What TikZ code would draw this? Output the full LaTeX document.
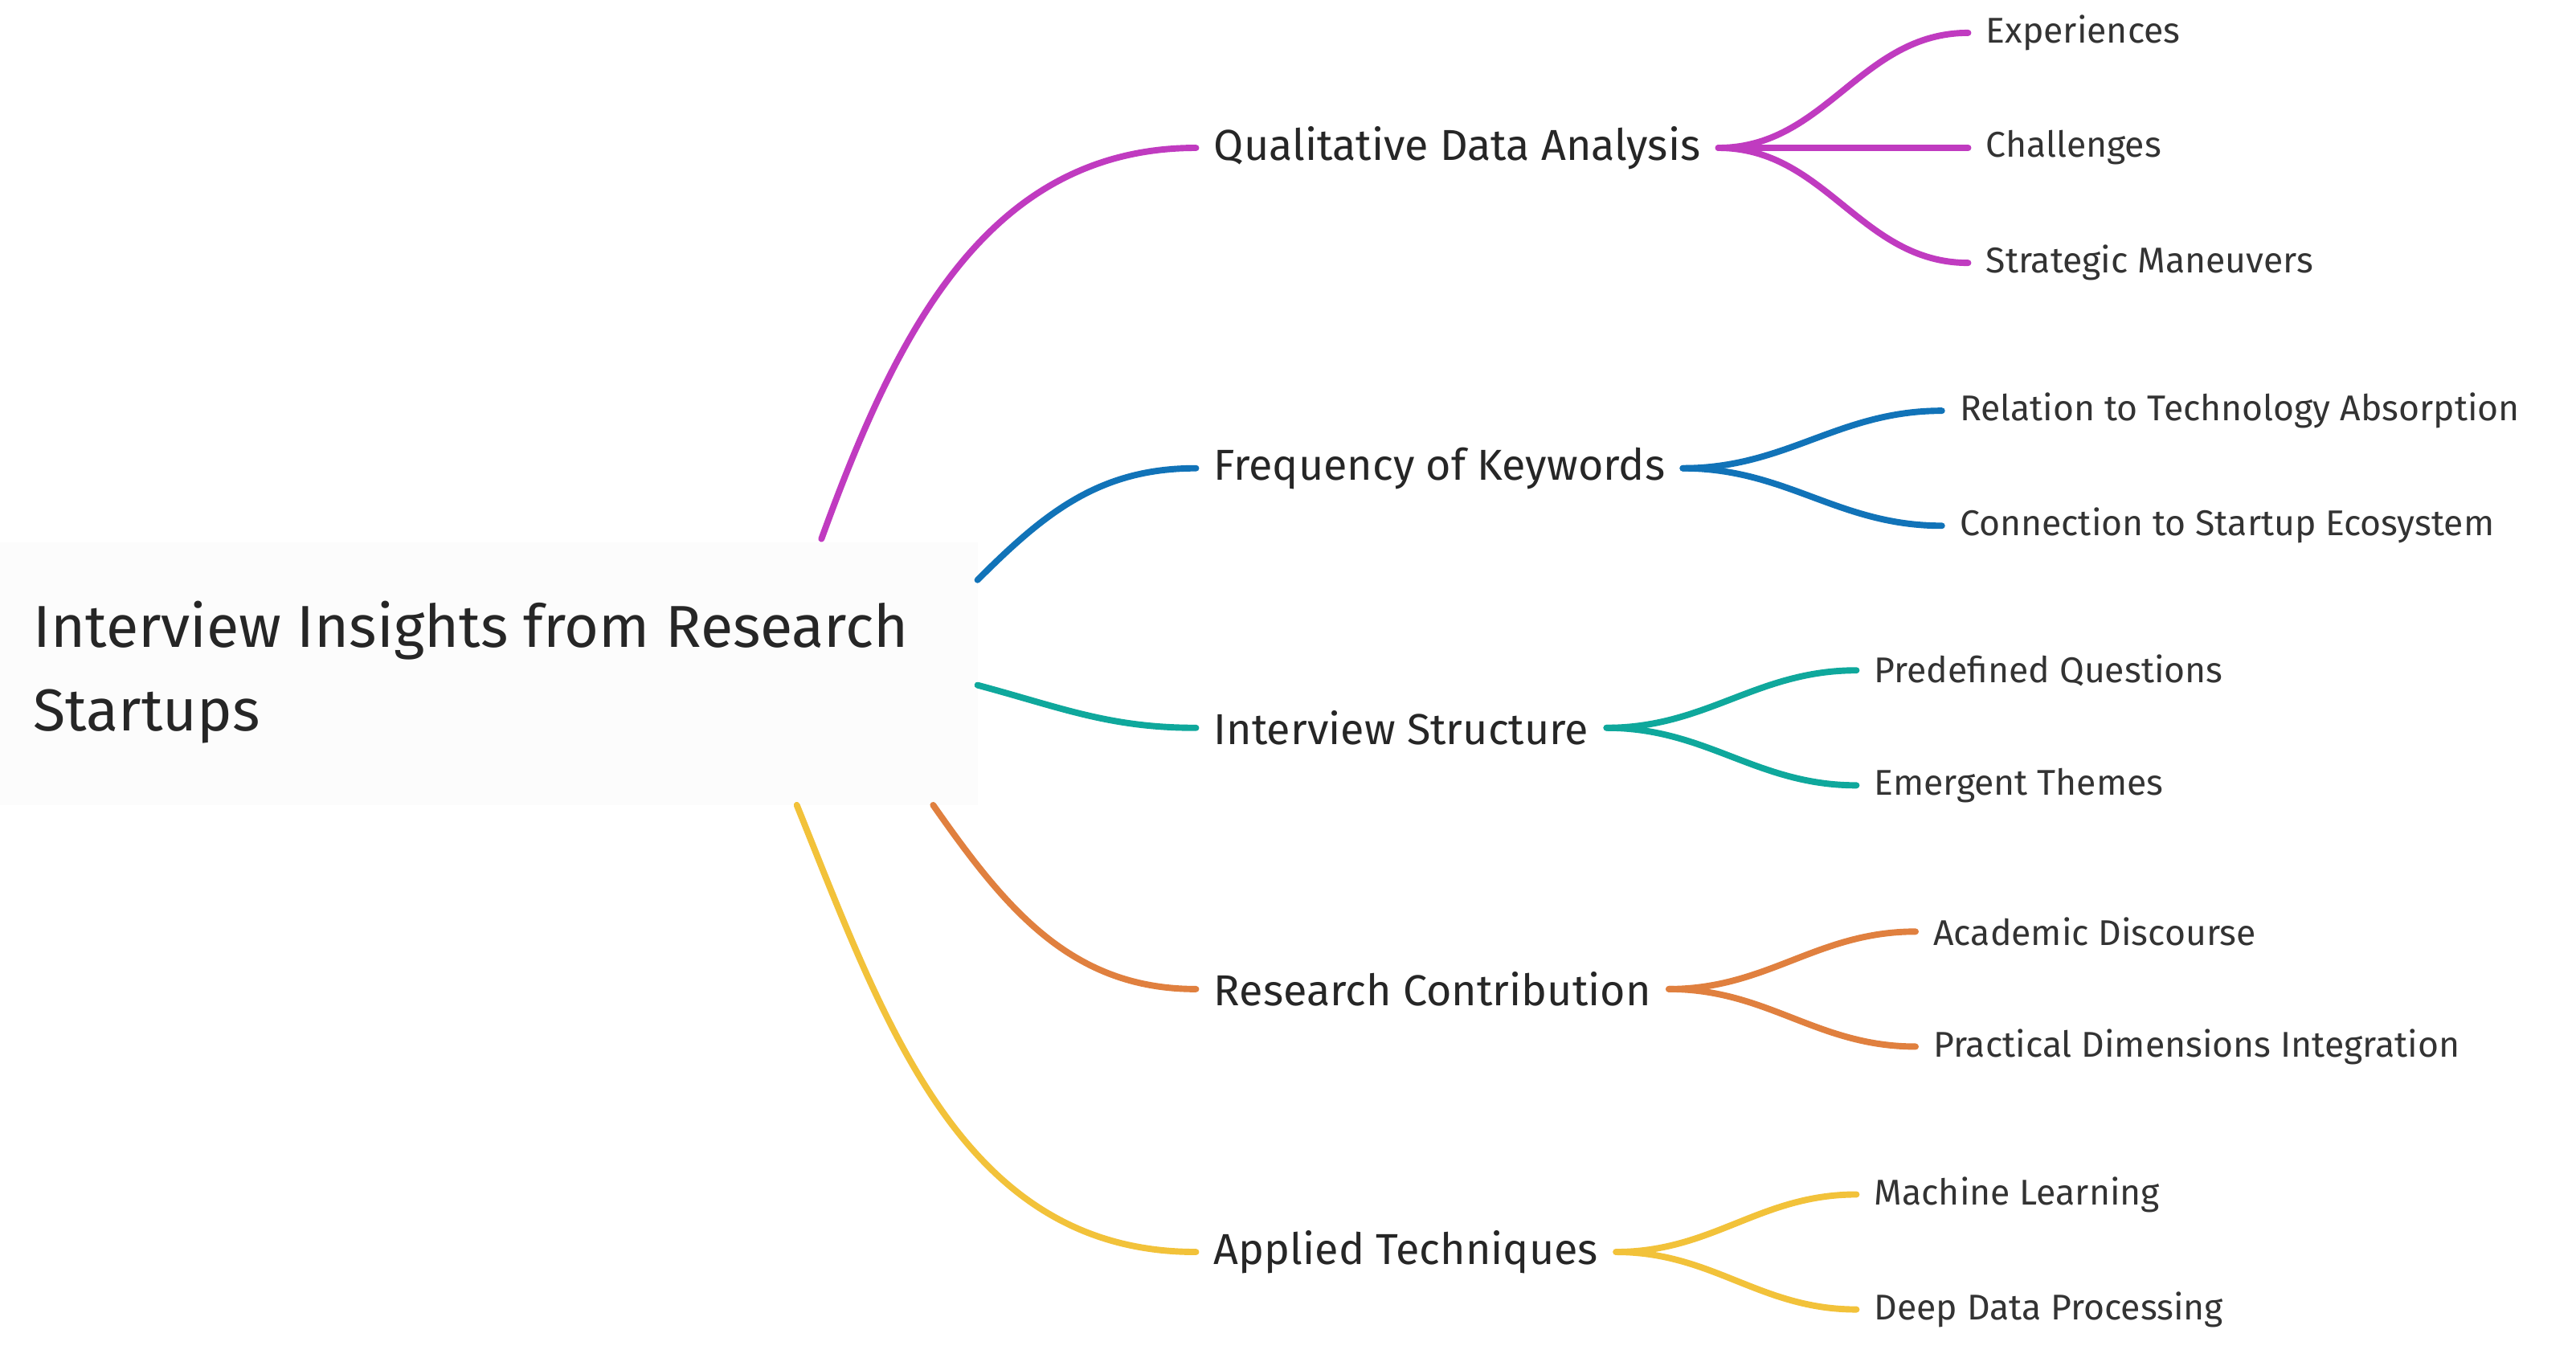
\documentclass[tikz,border=0pt]{standalone}
\usepackage{fontspec}
\setmainfont{Fira Sans}
\begin{document}
\begin{tikzpicture}[x=0.02cm,y=-0.02cm,
  root/.style={anchor=west,inner sep=0pt,font=\fontsize{20.5}{29}\selectfont,align=left,text=black!85},
  br/.style={anchor=west,inner xsep=6pt,inner ysep=2pt,font=\fontsize{15}{18}\selectfont,text=black!85},
  lf/.style={anchor=west,inner xsep=6pt,inner ysep=2pt,font=\fontsize{12.4}{15}\selectfont,text=black!80},
  con/.style={line width=2.2pt,line cap=round}]
\useasboundingbox (0,0) rectangle (1568,824);
\definecolor{cM}{HTML}{C03BC0}
\definecolor{cB}{HTML}{1173B8}
\definecolor{cT}{HTML}{0FA89C}
\definecolor{cO}{HTML}{E0803F}
\definecolor{cY}{HTML}{F2C23A}
\fill[black!1] (0,330) rectangle (595,490);
\node[root] (root) at (20,409) {Interview Insights from Research\\Startups};
\coordinate (rM) at (500,328);
\coordinate (rB) at (595,353);
\coordinate (rT) at (595,417);
\coordinate (rO) at (568,490);
\coordinate (rY) at (485,490);
\node[br] (qda) at (728,90) {Qualitative Data Analysis};
\node[br] (fk) at (728,285) {Frequency of Keywords};
\node[br] (is) at (728,443) {Interview Structure};
\node[br] (rc) at (728,602) {Research Contribution};
\node[br] (at) at (728,762) {Applied Techniques};
\draw[con,cM] (rM) to[out=70,in=180] (qda.west);
\draw[con,cB] (rB) to[out=45,in=180] (fk.west);
\draw[con,cT] (rT) to[out=-15,in=180] (is.west);
\draw[con,cO] (rO) to[out=-55,in=180] (rc.west);
\draw[con,cY] (rY) to[out=-68,in=180] (at.west);
\node[lf] (e1) at (1198,20) {Experiences};
\node[lf] (e2) at (1198,90) {Challenges};
\node[lf] (e3) at (1198,160) {Strategic Maneuvers};
\node[lf] (f1) at (1182,250) {Relation to Technology Absorption};
\node[lf] (f2) at (1182,320) {Connection to Startup Ecosystem};
\node[lf] (i1) at (1130,408) {Predefined Questions};
\node[lf] (i2) at (1130,478) {Emergent Themes};
\node[lf] (c1) at (1166,567) {Academic Discourse};
\node[lf] (c2) at (1166,637) {Practical Dimensions Integration};
\node[lf] (a1) at (1130,727) {Machine Learning};
\node[lf] (a2) at (1130,797) {Deep Data Processing};
\foreach \p/\c in {qda/e1,qda/e2,qda/e3} \draw[con,cM] (\p.east) to[out=0,in=180] (\c.west);
\foreach \p/\c in {fk/f1,fk/f2} \draw[con,cB] (\p.east) to[out=0,in=180] (\c.west);
\foreach \p/\c in {is/i1,is/i2} \draw[con,cT] (\p.east) to[out=0,in=180] (\c.west);
\foreach \p/\c in {rc/c1,rc/c2} \draw[con,cO] (\p.east) to[out=0,in=180] (\c.west);
\foreach \p/\c in {at/a1,at/a2} \draw[con,cY] (\p.east) to[out=0,in=180] (\c.west);
\end{tikzpicture}
\end{document}
